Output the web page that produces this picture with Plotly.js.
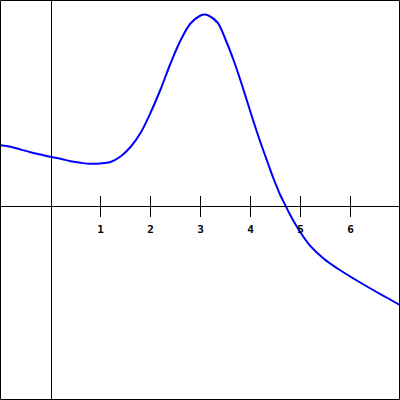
<!DOCTYPE html>
<html>
<head>
<meta charset="utf-8">
<script src="https://cdn.plot.ly/plotly-3.0.1.min.js"></script>
<style>html,body{margin:0;padding:0;background:#fff;}#chart{width:400px;height:400px;}</style>
</head>
<body>
<div id="chart"></div>
<script>
const xValues = [-1.0, -0.8, -0.6, -0.4, -0.2, 0.0, 0.2, 0.4, 0.6, 0.8, 1.0, 1.2, 1.4, 1.6, 1.8, 2.0, 2.2, 2.4, 2.6, 2.8, 3.0, 3.08, 3.16, 3.34, 3.5, 3.66, 3.8, 3.94, 4.06, 4.2, 4.34, 4.46, 4.6, 4.7, 4.8, 5.0, 5.2, 5.46, 5.74, 6.06, 6.4, 6.74, 7.0];
const yValues = [1.206, 1.174, 1.12, 1.066, 1.02, 0.974, 0.934, 0.886, 0.854, 0.834, 0.84, 0.87, 0.98, 1.17, 1.45, 1.854, 2.32, 2.84, 3.30, 3.64, 3.80, 3.82, 3.80, 3.66, 3.32, 2.91, 2.50, 2.06, 1.68, 1.26, 0.87, 0.54, 0.20, 0.0, -0.20, -0.54, -0.814, -1.06, -1.26, -1.46, -1.66, -1.85, -2.0];
const tickValues = [1, 2, 3, 4, 5, 6];
const tickLabels = ['1', '2', '3', '4', '5', '6'];

const xRange = [-1.01, 6.99];
const yRange = [-3.89, 4.11];

const traces = [{
  x: xValues, y: yValues, type: 'scatter', mode: 'lines',
  line: {color: '#0000ff', width: 2, shape: 'spline', smoothing: 1},
  xaxis: 'x', yaxis: 'y', hoverinfo: 'skip'
}];

const layout = {
  width: 400, height: 400,
  margin: {l: 0, r: 0, t: 0, b: 0, pad: 0},
  paper_bgcolor: '#ffffff', plot_bgcolor: '#ffffff',
  showlegend: false,
  xaxis: {
    range: xRange, anchor: 'free', position: 0.48625,
    showgrid: false, zeroline: false, showline: true, linecolor: '#000', linewidth: 1,
    ticks: 'outside', ticklen: 10, tickwidth: 1, tickcolor: '#000',
    tickvals: tickValues, ticktext: tickLabels,
    tickfont: {family: 'DejaVu Sans Mono', size: 11, color: '#000', weight: 'bold'},
    ticklabelstandoff: 3, fixedrange: true
  },
  xaxis2: {
    range: xRange, overlaying: 'x', anchor: 'free', position: 0.48625,
    showgrid: false, zeroline: false, showline: false,
    ticks: 'inside', ticklen: 10, tickwidth: 1, tickcolor: '#000',
    tickvals: tickValues, showticklabels: false, fixedrange: true
  },
  yaxis: {
    range: yRange, anchor: 'free', position: 0.12625,
    showgrid: false, zeroline: false, showline: true, linecolor: '#000', linewidth: 1,
    ticks: '', showticklabels: false, fixedrange: true
  },
  shapes: [{
    type: 'rect', xref: 'paper', yref: 'paper',
    x0: 0.5/400, x1: 399.5/400, y0: 0.5/400, y1: 399.5/400,
    line: {color: '#000', width: 1}, fillcolor: 'rgba(0,0,0,0)'
  }]
};

traces.push({x: [xRange[0]], y: [0], xaxis: 'x2', yaxis: 'y', mode: 'markers', marker: {opacity: 0}, hoverinfo: 'skip'});

Plotly.newPlot('chart', traces, layout, {staticPlot: true, displayModeBar: false});
</script>
</body>
</html>
